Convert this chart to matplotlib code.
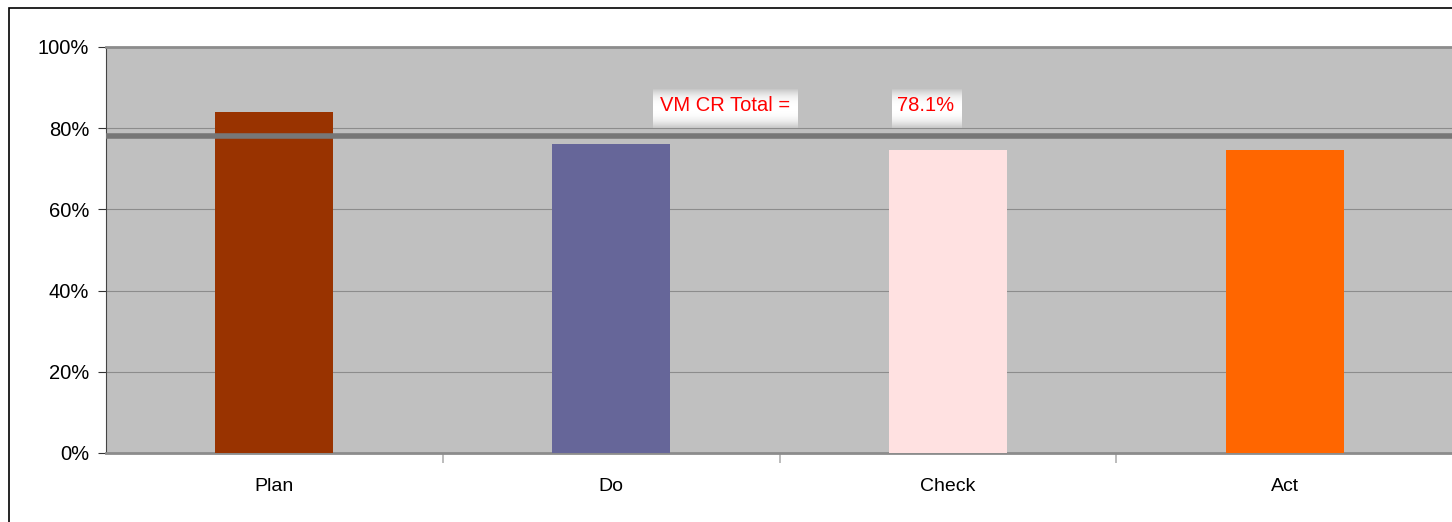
import numpy as np
import matplotlib.pyplot as plt
from matplotlib.patches import Rectangle

categories = ["Plan", "Do", "Check", "Act"]
scores = [0.84, 0.761, 0.746, 0.746]
bar_colors = ["#993300", "#666699", "#FFE1E1", "#FF6600"]
total_score = 0.781
y_ticks = [0, 0.2, 0.4, 0.6, 0.8, 1.0]

fig = plt.figure(figsize=(14.52, 5.22), dpi=100)
plt.rcParams['font.family'] = ['Liberation Sans', 'DejaVu Sans']

# outer chart border (runs off right and bottom edges)
fig.patches.append(Rectangle((9 / 1452, -0.1), 1.2, 1.1 - 8 / 522, transform=fig.transFigure,
                             fill=False, edgecolor="black", linewidth=1.2))

ax = fig.add_axes([106 / 1452, 69 / 522, 1347 / 1452, 406 / 522])
ax.set_facecolor("#C0C0C0")

x = np.arange(len(categories))
ax.bar(x, scores, width=0.35, color=bar_colors, zorder=3)
ax.axhline(total_score, color="#777777", linewidth=4, zorder=4)

# label boxes with a soft white-to-grey vertical gradient
t = np.linspace(-1, 1, 64)
grad = (1 - 0.22 * np.abs(t) ** 2.5)[:, None]
for x0, x1 in [(1.124, 1.552), (1.834, 2.039)]:
    ax.imshow(grad, cmap="gray", vmin=0, vmax=1, aspect="auto",
              extent=(x0, x1, 0.800, 0.894), zorder=5)

ax.text(1.338, 0.855, "VM CR Total =", color="red", fontsize=14.5, ha="center", va="center",
        zorder=6)
ax.text(1.935, 0.855, f"{total_score * 100:.1f}%", color="red", fontsize=14.5, ha="center",
        va="center", zorder=6)

ax.set_xlim(-0.5, len(categories) - 0.5)
ax.set_ylim(0, 1)
ax.set_yticks(y_ticks)
ax.set_yticklabels([f"{int(v * 100)}%" for v in y_ticks], fontsize=14.5)
ax.yaxis.grid(True, color="#8C8C8C", linewidth=0.8, zorder=1)

ax.set_xticks(x)
ax.set_xticklabels(categories, fontsize=14)
ax.set_xticks(x[:-1] + 0.5, minor=True)
ax.tick_params(axis="x", which="major", length=0, pad=18)
ax.tick_params(axis="x", which="minor", length=7, color="#B0B0B0", width=1.2)
ax.tick_params(axis="y", length=6, color="#333333", pad=6)

for side in ["top", "bottom"]:
    ax.spines[side].set_color("#8C8C8C")
    ax.spines[side].set_linewidth(2)
ax.spines["right"].set_visible(False)
ax.spines["left"].set_color("#444444")

plt.savefig("out.png", dpi=100)
